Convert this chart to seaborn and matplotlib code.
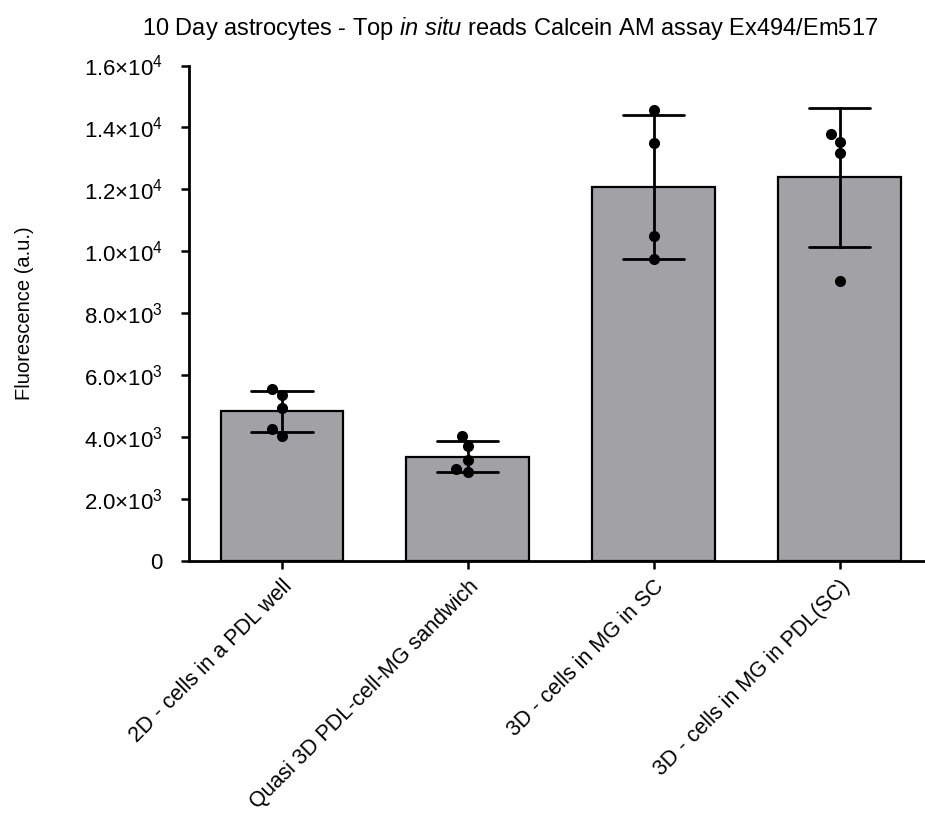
import numpy as np
import pandas as pd
import matplotlib
matplotlib.use("Agg")
import matplotlib.pyplot as plt
import matplotlib.ticker as mticker
import seaborn as sns

groups = ["2D - cells in a PDL well", "Quasi 3D PDL-cell-MG sandwich",
          "3D - cells in MG in SC", "3D - cells in MG in PDL(SC)"]
vals_2d = [5350, 5530, 4940, 4030, 4240]
vals_quasi = [4020, 3710, 3250, 2870, 2960]
vals_sc = [14560, 13500, 10490, 9740]
vals_pdl = [13540, 13790, 13170, 9040]

df = pd.DataFrame({
    "group": [groups[0]] * len(vals_2d) + [groups[1]] * len(vals_quasi)
             + [groups[2]] * len(vals_sc) + [groups[3]] * len(vals_pdl),
    "value": vals_2d + vals_quasi + vals_sc + vals_pdl,
})

sns.set_style("ticks", {"axes.edgecolor": "black", "text.color": "black",
                        "xtick.color": "black", "ytick.color": "black",
                        "axes.labelcolor": "black"})
plt.rcParams["font.family"] = ["Liberation Sans", "DejaVu Sans"]
plt.rcParams["mathtext.fontset"] = "custom"
plt.rcParams["mathtext.rm"] = "Liberation Sans"
plt.rcParams["mathtext.it"] = "Liberation Sans:italic"

fig = plt.figure(figsize=(9.25, 8.16), dpi=100)
ax = fig.add_axes([0.2043, 0.3131, 0.7957, 0.6066])

sns.barplot(data=df, x="group", y="value", order=groups, color="#a2a1a6",
            saturation=1, width=0.66, errorbar="sd", capsize=0.33,
            edgecolor="black", linewidth=1.6,
            err_kws={"color": "black", "linewidth": 2}, ax=ax)
sns.swarmplot(data=df, x="group", y="value", order=groups, color="black",
              size=8, ax=ax)

ax.set_ylim(0, 16000)
ax.set_xlim(-0.5, 3.46)
ax.set_yticks(np.arange(0, 16001, 2000))


def sci(v, pos):
    if v == 0:
        return "0"
    e = int(np.floor(np.log10(v)))
    m = v / 10 ** e
    return r"$\mathregular{%.1f{\times}10^{%d}}$" % (m, e)


ax.yaxis.set_major_formatter(mticker.FuncFormatter(sci))
ax.tick_params(axis="y", labelsize=16, length=6, width=1.8, pad=13)
ax.tick_params(axis="x", labelsize=15.5, length=6, width=1.8, pad=5)
plt.setp(ax.get_xticklabels(), rotation=45, ha="right", rotation_mode="anchor")
for s in ["left", "bottom"]:
    ax.spines[s].set_linewidth(2)
sns.despine(ax=ax)

ax.set_xlabel("")
ax.set_ylabel("Fluorescence (a.u.)", fontsize=14.5, labelpad=36)
fig.text(0.551, 0.965, r"10 Day astrocytes - Top $\it{in\ situ}$ reads Calcein AM assay Ex494/Em517",
         ha="center", va="center", fontsize=17)

fig.savefig("out.png", dpi=100)
